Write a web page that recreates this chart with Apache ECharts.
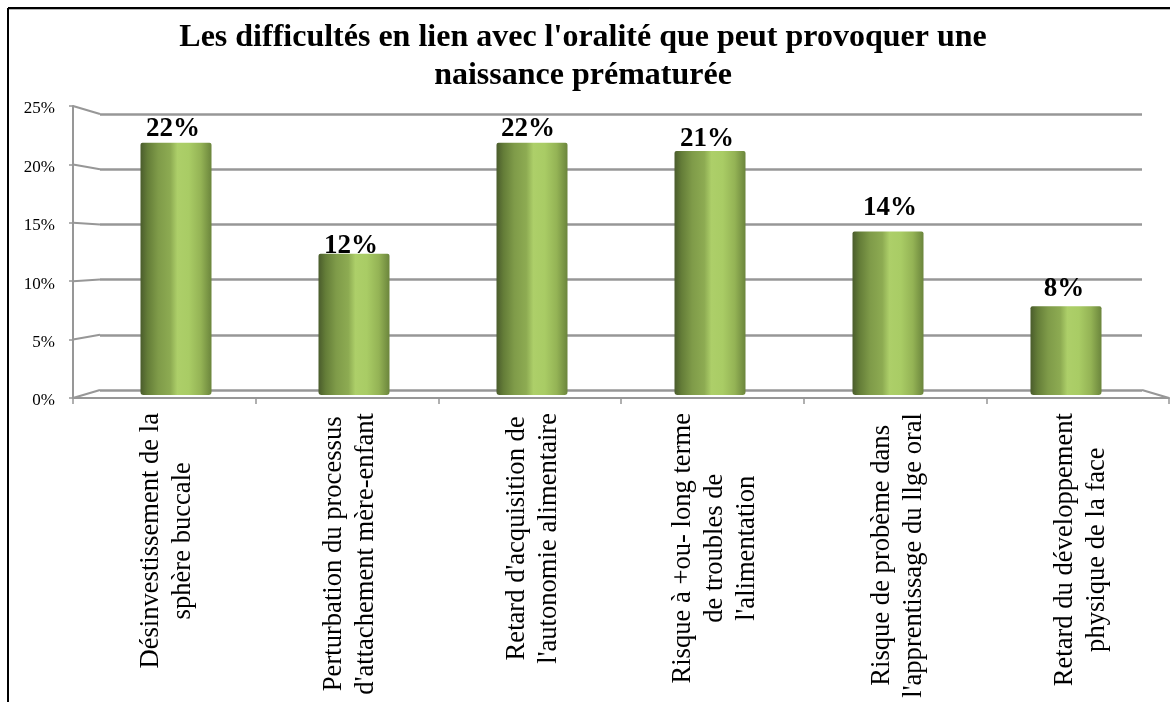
<!DOCTYPE html>
<html><head><meta charset="utf-8">
<script src="https://cdn.jsdelivr.net/npm/echarts@6/dist/echarts.min.js"></script>
<style>html,body{margin:0;padding:0;background:#fff}#c{width:1170px;height:702px}</style>
</head><body><div id="c"></div>
<script>
const titleText = "Les difficultés en lien avec l'oralité que peut provoquer une\nnaissance prématurée";
const categories = [
  "Désinvestissement de la\nsphère buccale",
  "Perturbation du processus\nd'attachement mère-enfant",
  "Retard d'acquisition de\nl'autonomie alimentaire",
  "Risque à +ou- long terme\nde troubles de\nl'alimentation",
  "Risque de probème dans\nl'apprentissage du llge oral",
  "Retard du développement\nphysique de la face"
];
const values = [21.6, 12.1, 21.6, 20.9, 14.0, 7.6];
const tickValues = [0, 5, 10, 15, 20, 25];
const labelGaps = [0, -6, 0, -2, 10, 4];
const labelShifts = [-3, -3, -4, -3, 2, -2];

const serif = '"Liberation Serif","Times New Roman",serif';
const grey = '#979797';
const chart = echarts.init(document.getElementById('c'), null, {renderer: 'canvas'});
const barGradient = new echarts.graphic.LinearGradient(0, 0, 1, 0, [
  {offset: 0, color: '#4a5c2c'},
  {offset: 0.1, color: '#647d38'},
  {offset: 0.25, color: '#7f9b49'},
  {offset: 0.42, color: '#8dab52'},
  {offset: 0.52, color: '#adcf69'},
  {offset: 0.68, color: '#a9cc65'},
  {offset: 0.85, color: '#94b355'},
  {offset: 1, color: '#6b853c'}
]);
function connector(from, to) {
  return {type: 'line', shape: {x1: from[0], y1: from[1], x2: to[0], y2: to[1]},
    style: {stroke: grey, lineWidth: 2}};
}
chart.setOption({
  animation: false,
  backgroundColor: '#fff',
  title: {text: titleText, left: 578, top: 14, textAlign: 'center',
    textStyle: {fontFamily: serif, fontWeight: 'bold', fontSize: 32, lineHeight: 38, color: '#000'}},
  grid: [
    {left: 73, top: 106, width: 1096, height: 292},
    {left: 100, top: 114, width: 1042, height: 276},
    {left: 87, top: 103, width: 1068, height: 292}
  ],
  xAxis: [
    {gridIndex: 0, type: 'category', data: categories,
      axisLine: {lineStyle: {color: grey, width: 2}},
      axisTick: {show: true, length: 6, alignWithLabel: false, lineStyle: {color: grey, width: 1.5}},
      axisLabel: {rotate: 90, interval: 0, margin: 15, color: '#000', fontFamily: serif, fontSize: 26.6, lineHeight: 32, align: 'right', verticalAlign: 'middle', padding: [6, 0, 0, 0],
        formatter: v => v.split('\n').map(s => '{c|' + s + '}').join('\n'),
        rich: {c: {align: 'center', fontFamily: serif, fontSize: 26.6, lineHeight: 32, color: '#000'}}},
      splitLine: {show: false}},
    {gridIndex: 1, type: 'category', data: categories, show: false},
    {gridIndex: 2, type: 'category', data: categories, show: false}
  ],
  yAxis: [
    {gridIndex: 0, type: 'value', min: 0, max: 25, interval: 5,
      axisLine: {show: true, lineStyle: {color: grey, width: 2}},
      axisTick: {show: true, length: 4, lineStyle: {color: grey, width: 1.5}},
      axisLabel: {margin: 18, color: '#000', fontFamily: serif, fontSize: 17, verticalAlign: 'top', lineHeight: 6, formatter: '{value}%'},
      splitLine: {show: false}},
    {gridIndex: 1, type: 'value', min: 0, max: 25, interval: 5,
      axisLine: {show: false}, axisTick: {show: false}, axisLabel: {show: false},
      splitLine: {show: true, lineStyle: {color: grey, width: 2.5}}},
    {gridIndex: 2, type: 'value', min: 0, max: 25, interval: 5, show: false, splitLine: {show: false}}
  ],
  series: [
    {type: 'custom', xAxisIndex: 1, yAxisIndex: 1, coordinateSystem: 'cartesian2d', silent: true, z: 1,
      data: tickValues.map(v => [0, v]),
      renderItem(params, api) {
        const v = api.value(1);
        const front = chart.convertToPixel({yAxisIndex: 0}, v);
        const back = chart.convertToPixel({yAxisIndex: 1}, v);
        const children = [connector([73, front], [100, back])];
        if (v === tickValues[0]) children.push(connector([1142, back], [1169, front]));
        return {type: 'group', children};
      }},
    {type: 'bar', xAxisIndex: 2, yAxisIndex: 2, z: 3, barWidth: 71,
      data: values.map((v, i) => ({
        value: v,
        label: {distance: labelGaps[i], offset: [labelShifts[i], 0]}
      })),
      itemStyle: {color: barGradient, borderRadius: [2, 2, 3, 3]},
      label: {show: true, position: 'top', color: '#000', fontFamily: serif, fontWeight: 'bold', fontSize: 27,
        formatter: p => Math.round(p.value) + '%'}}
  ],
  graphic: [
    {type: 'line', shape: {x1: 8, y1: 8, x2: 1170, y2: 8}, style: {stroke: '#000', lineWidth: 2}, z: 10},
    {type: 'line', shape: {x1: 8, y1: 8, x2: 8, y2: 702}, style: {stroke: '#000', lineWidth: 2}, z: 10},
    {type: 'line', shape: {x1: 9, y1: 9.5, x2: 1170, y2: 9.5}, style: {stroke: '#b5b5b5', lineWidth: 1}, z: 9}
  ]
});
chart.setOption({series: [{data: tickValues.map(v => [0, v])}]});
</script></body></html>
